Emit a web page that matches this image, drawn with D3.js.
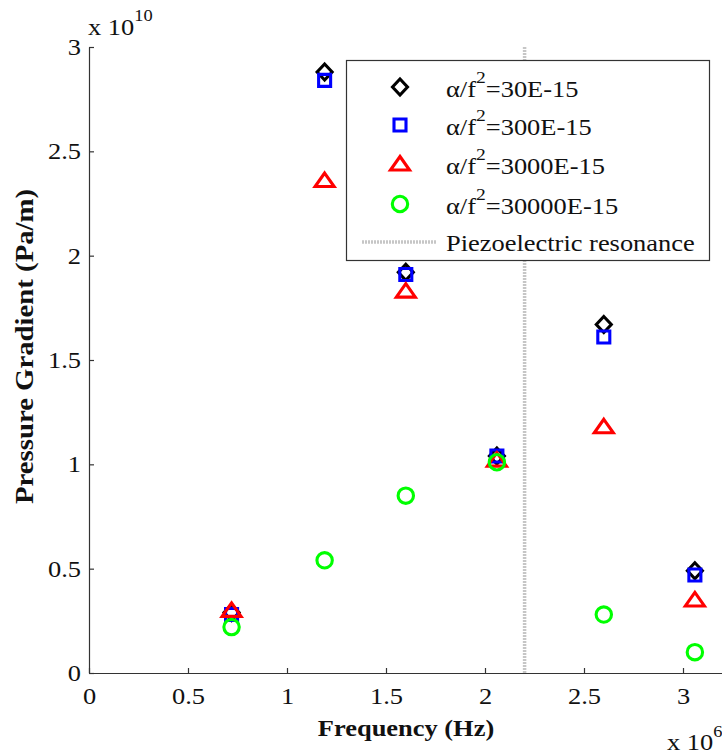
<!DOCTYPE html>
<html><head><meta charset="utf-8">
<script src="https://cdn.jsdelivr.net/npm/d3@7"></script>
<style>body{margin:0;background:#fff}svg{display:block}text{font-family:"Liberation Serif","Times New Roman",serif;fill:#111}</style>
</head><body><svg id="c" width="722" height="755"></svg>
<script>
const freq = [0.72, 1.19, 1.60, 2.06, 2.60, 3.06]; // x 10^6 Hz
const s30 = [0.29, 2.88, 1.92, 1.04, 1.67, 0.49]; // x 10^10 Pa/m
const s300 = [0.28, 2.84, 1.91, 1.04, 1.61, 0.47];
const s3000 = [0.30, 2.36, 1.83, 1.02, 1.18, 0.35];
const s30000 = [0.22, 0.54, 0.85, 1.01, 0.28, 0.10];
const seriesLabels = ["30E-15", "300E-15", "3000E-15", "30000E-15"];
const xTicks = [0, 0.5, 1, 1.5, 2, 2.5, 3];
const yTicks = [0, 0.5, 1, 1.5, 2, 2.5, 3];
const resonance = 2.2;

const series = [
  {vals: s30, color: "#000000", shape: "diamond", label: seriesLabels[0]},
  {vals: s300, color: "#0000ff", shape: "square", label: seriesLabels[1]},
  {vals: s3000, color: "#ff0000", shape: "triangle", label: seriesLabels[2]},
  {vals: s30000, color: "#00ff00", shape: "circle", label: seriesLabels[3]}
];

const SX = 1.15; // horizontal stretch of the serif text
const FS = 23;
const SW = 3.1;

const svg = d3.select("#c");
const x = d3.scaleLinear().domain([0, 3.2]).range([89, 722.6]);
const y = d3.scaleLinear().domain([0, 3]).range([673, 47]);

// resonance line
svg.append("line").attr("x1", x(resonance)).attr("x2", x(resonance))
  .attr("y1", y(3)).attr("y2", y(0))
  .attr("stroke", "#c6c6c6").attr("stroke-width", 3.5).attr("stroke-dasharray", "2,1");

// axes
const xAxis = d3.axisBottom(x).tickValues(xTicks).tickSizeInner(-5).tickSizeOuter(0).tickPadding(15)
  .tickFormat(d => d3.format("")(d));
const yAxis = d3.axisLeft(y).tickValues(yTicks).tickSizeInner(-5).tickSizeOuter(0).tickPadding(8)
  .tickFormat(d => d3.format("")(d));
const gx = svg.append("g").attr("transform", `translate(0,${y(0)})`).call(xAxis);
const gy = svg.append("g").attr("transform", `translate(${x(0)},0)`).call(yAxis);
[gx, gy].forEach(g => {
  g.select(".domain").attr("stroke", "#333").attr("stroke-width", 1.2);
  g.selectAll(".tick line").attr("stroke", "#333").attr("stroke-width", 1.2);
  g.selectAll(".tick text").attr("font-family", "Liberation Serif, serif").attr("font-size", FS).attr("fill", "#111");
});
gx.selectAll(".tick text").attr("dy", "0.71em").attr("transform", `scale(${SX},1)`);
gy.selectAll(".tick text").attr("x", -8 / SX).attr("transform", `scale(${SX},1)`);

// marker shapes (MATLAB-like)
const shapes = {
  diamond: {draw(c) { c.moveTo(0, -8); c.lineTo(7.5, 0); c.lineTo(0, 8); c.lineTo(-7.5, 0); c.closePath(); }},
  square: {draw(c) { c.rect(-6, -6, 12, 12); }},
  triangle: {draw(c) { c.moveTo(0, -7.5); c.lineTo(9.5, 6); c.lineTo(-9.5, 6); c.closePath(); }},
  circle: {draw(c) { c.moveTo(7.7, 0); c.arc(0, 0, 7.7, 0, 2 * Math.PI); }}
};
function sym(shape) { return d3.symbol().type(shapes[shape])(); }

series.forEach(s => {
  svg.append("g").selectAll("path").data(s.vals).join("path")
    .attr("d", sym(s.shape))
    .attr("transform", (d, i) => `translate(${x(freq[i])},${y(d)})`)
    .attr("fill", "none").attr("stroke", s.color).attr("stroke-width", SW).attr("stroke-linejoin", "miter");
});

// labels
svg.append("text").attr("transform", `translate(406,736) scale(${SX},1)`).attr("text-anchor", "middle")
  .attr("font-size", FS).attr("font-weight", "bold").text("Frequency (Hz)");
svg.append("text").attr("transform", `translate(33,504) rotate(-90) scale(${SX},1)`).attr("text-anchor", "start")
  .attr("font-size", 25).attr("font-weight", "bold").text("Pressure Gradient (Pa/m)");

const e10 = svg.append("text").attr("transform", `translate(88,35) scale(${SX},1)`).attr("font-size", FS);
e10.append("tspan").text("x 10");
e10.append("tspan").attr("dy", -14).attr("font-size", 16).text("10");
const e6 = svg.append("text").attr("transform", `translate(667,750) scale(${SX},1)`).attr("font-size", FS);
e6.append("tspan").text("x 10");
e6.append("tspan").attr("dy", -13).attr("font-size", 16).text("6");

// legend
const lg = svg.append("g");
lg.append("rect").attr("x", 346.5).attr("y", 60.5).attr("width", 363).attr("height", 200)
  .attr("fill", "#fff").attr("stroke", "#333").attr("stroke-width", 1.2);
const rowY = [87, 125, 164, 204, 242];
series.forEach((s, i) => {
  lg.append("path").attr("d", sym(s.shape))
    .attr("transform", `translate(400,${rowY[i]})`)
    .attr("fill", "none").attr("stroke", s.color).attr("stroke-width", SW);
  const t = lg.append("text").attr("transform", `translate(446,${rowY[i] + 10}) scale(${SX},1)`).attr("font-size", FS);
  t.append("tspan").text("\u03b1/f");
  t.append("tspan").attr("dy", -14).attr("font-size", 17).text("2");
  t.append("tspan").attr("dy", 14).text("=" + s.label);
});
lg.append("line").attr("x1", 362).attr("x2", 437).attr("y1", rowY[4]).attr("y2", rowY[4])
  .attr("stroke", "#c6c6c6").attr("stroke-width", 3.5).attr("stroke-dasharray", "2,1");
lg.append("text").attr("transform", `translate(446,${rowY[4] + 9}) scale(${SX},1)`).attr("font-size", FS).text("Piezoelectric resonance");
</script></body></html>
